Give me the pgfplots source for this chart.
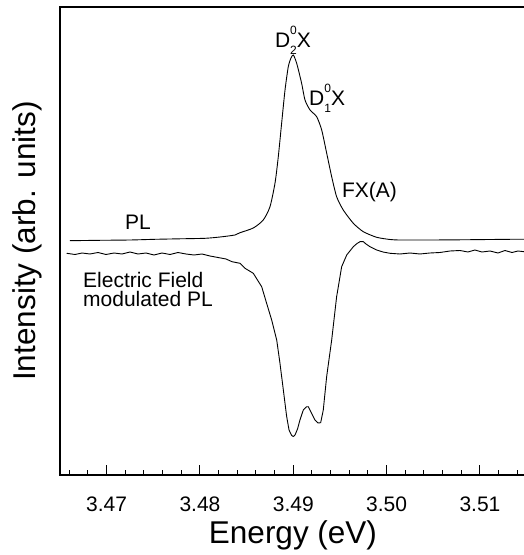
\documentclass[border=0pt]{standalone}
\usepackage{fontspec}
\setmainfont{Liberation Sans}
\usepackage{pgfplots}
\pgfplotsset{compat=1.18}

% D^0_n X label with stacked super/subscript
\newcommand{\dx}[1]{D\rlap{\raisebox{0.62em}{\fontsize{12}{12}\selectfont 0}}\raisebox{-0.32em}{\fontsize{12}{12}\selectfont #1}X}

\pgfplotstableread{
E y
3.46607 234.3
3.46929 234.7
3.47250 235.0
3.47518 235.7
3.47786 236.2
3.48054 236.7
3.48214 238.0
3.48375 240.0
3.48429 242.3
3.48571 247.0
3.48678 255.0
3.48750 268.3
3.48804 292.0
3.48839 318.3
3.48875 352.0
3.48911 385.0
3.48946 408.3
3.48975 417.0
3.49000 420.0
3.49036 411.7
3.49089 391.7
3.49125 375.0
3.49179 365.0
3.49250 358.3
3.49304 345.0
3.49357 322.0
3.49411 298.3
3.49464 278.3
3.49535 265.0
3.49643 251.7
3.49750 243.3
3.49893 237.7
3.50036 235.5
3.50143 235.0
3.50464 235.0
3.50786 235.2
3.51107 235.5
3.51321 235.7
3.51500 235.7
}\pl

\pgfplotstableread{
E y
3.46572 221.7
3.46661 220.5
3.46736 222.0
3.46821 221.0
3.46907 222.5
3.46993 220.5
3.47079 222.0
3.47164 221.0
3.47250 223.0
3.47336 221.0
3.47421 222.0
3.47507 220.0
3.47593 222.0
3.47679 220.5
3.47764 222.5
3.47850 221.0
3.47936 220.0
3.48021 221.0
3.48107 219.0
3.48193 217.5
3.48279 216.0
3.48343 213.3
3.48429 211.7
3.48482 206.7
3.48571 201.7
3.48661 188.3
3.48714 171.7
3.48768 155.0
3.48822 135.0
3.48857 111.7
3.48893 85.0
3.48929 58.3
3.48954 45.0
3.48982 39.5
3.49000 38.5
3.49018 40.0
3.49045 46.0
3.49071 55.0
3.49107 65.0
3.49143 68.3
3.49161 68.3
3.49196 61.7
3.49232 55.0
3.49264 52.0
3.49293 52.3
3.49321 65.0
3.49357 98.3
3.49411 135.0
3.49464 178.3
3.49518 208.3
3.49572 220.0
3.49643 228.3
3.49682 231.5
3.49714 233.3
3.49750 233.3
3.49779 231.0
3.49821 228.3
3.49893 225.0
3.49961 223.0
3.50036 221.7
3.50143 221.0
3.50250 222.0
3.50357 221.0
3.50464 222.0
3.50571 222.5
3.50679 224.0
3.50786 224.5
3.50871 223.0
3.50946 225.0
3.51021 223.0
3.51107 224.0
3.51193 222.0
3.51268 224.5
3.51343 222.5
3.51407 224.0
3.51500 223.0
}\efpl

\begin{document}
\begin{tikzpicture}
\begin{axis}[
  scale only axis,
  width=466pt, height=468pt,
  xmin=3.465, xmax=3.51493,
  ymin=0, ymax=468,
  axis line style={line width=1.2pt},
  xtick={3.47,3.48,3.49,3.50,3.51},
  minor xtick={3.462,3.464,...,3.516},
  ytick=\empty,
  xtick pos=bottom,
  tick align=inside,
  major tick length=10pt, minor tick length=5pt,
  every tick/.style={line width=1pt, black},
  every minor tick/.style={line width=1pt, black},
  /pgf/number format/assume math mode=true,
  xticklabel style={/pgf/number format/.cd, fixed, fixed zerofill, precision=2,
    /tikz/.cd, font=\fontsize{21}{21}\selectfont, inner sep=0pt, anchor=north, yshift=-22pt},
  xlabel={Energy (eV)},
  xlabel style={font=\fontsize{31.5}{31.5}\selectfont, inner sep=0pt, anchor=north,
    at={(axis description cs:0.5,-0.097)}},
  ylabel={Intensity (arb. units)},
  ylabel style={font=\fontsize{31.5}{31.5}\selectfont, inner sep=0pt, anchor=south,
    at={(axis description cs:-0.0375,0.5)}},
]
\addplot[black, line width=0.9pt, no marks, smooth, tension=0.4] table[x=E, y=y] {\pl};
\addplot[black, line width=0.9pt, no marks] table[x=E, y=y] {\efpl};

\begin{scope}[every node/.style={font=\fontsize{21}{21}\selectfont, inner sep=0pt}]
\node at (axis cs:3.48996,435) {\dx{2}};
\node[anchor=west] at (axis cs:3.49168,377) {\dx{1}};
\node[anchor=west] at (axis cs:3.49521,283) {FX(A)};
\node[anchor=west] at (axis cs:3.47196,253) {PL};
\node[anchor=north west, align=left] at (axis cs:3.46746,203) {Electric Field\\[-2pt]modulated PL};
\end{scope}
\end{axis}
\pgfresetboundingbox
\path ([shift={(-60pt,-80pt)}]current axis.south west) rectangle ([shift={(-2pt,7pt)}]current axis.north east);
\end{tikzpicture}
\end{document}
